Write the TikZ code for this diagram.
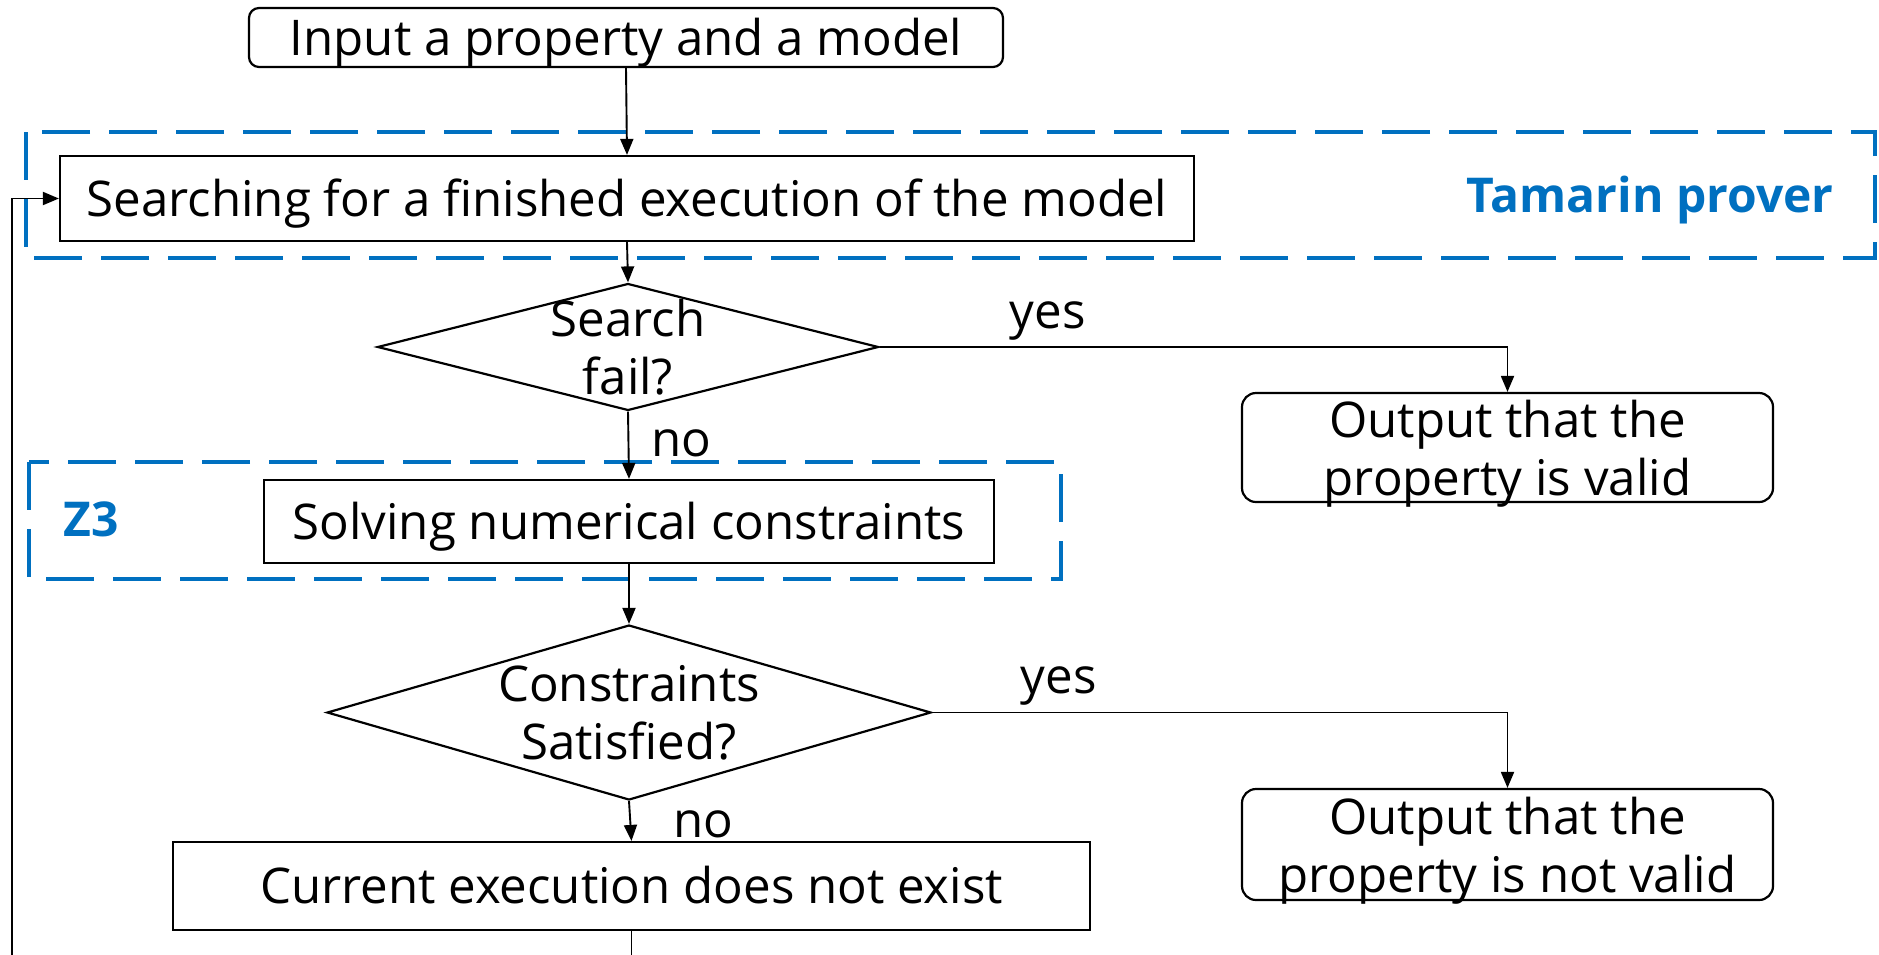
\documentclass[tikz,border=0pt]{standalone}
\usepackage{fontspec}
\setmainfont{Open Sans}
\usetikzlibrary{shapes.geometric,arrows.meta}
\definecolor{tblue}{HTML}{0070C0}
\begin{document}
\begin{tikzpicture}[x=0.5pt,y=-0.5pt,
  every node/.style={inner sep=0pt, font=\fontsize{24.6}{29}\selectfont},
  oneline/.style={text height=19pt, text depth=1.5pt},
  tx/.style={yshift=-2.5pt},
  proc/.style={draw, line width=1.1pt, rectangle, oneline},
  term/.style={draw, line width=1.1pt, rectangle, rounded corners=7pt},
  dec/.style={draw, line width=1.1pt, diamond},
  group/.style={draw=tblue, line width=2pt, dash pattern=on 24pt off 9.5pt},
  grouplabel/.style={text=tblue, font=\fontsize{24}{29}\selectfont\bfseries},
  flow/.style={line width=0.95pt, -{Triangle[length=8pt,width=6.5pt]}}
]
\clip (0,0) rectangle (1879,954);
\useasboundingbox (0,0) rectangle (1879,954);

% tool groups
\draw[group] (26,132) rectangle (1875,258);
\node[grouplabel, tx] (tamarin) at (1650,195) {Tamarin prover};
\draw[group] (29,462) rectangle (1061,579);
\node[grouplabel] (z3) at (91,519) {Z3};

% steps
\node[term, oneline, minimum width=377pt, minimum height=29.5pt, rounded corners=5pt] (input) at (626,37.5) {Input a property and a model};
\node[proc, minimum width=567pt, minimum height=42.5pt, fill=white] (search) at (627,198.5) {Searching for a finished execution of the model};
\node[dec, minimum width=250.5pt, minimum height=63.5pt] (fail) at (628,347) {};
\node[align=center] (failtxt) at (628,347) {Search\\fail?};
\node[term, minimum width=265.5pt, minimum height=54.5pt] (valid) at (1507.5,447.5) {};
\node[align=center, tx] (validtxt) at (1507.5,449) {Output that the\\property is valid};
\node[proc, minimum width=365pt, minimum height=41.5pt, fill=white] (solve) at (629,521.5) {Solving numerical constraints};
\node[dec, minimum width=302pt, minimum height=87.5pt] (sat) at (629,712.5) {};
\node[align=center] (sattxt) at (629,712.5) {Constraints\\Satisfied?};
\node[term, minimum width=265.5pt, minimum height=55.5pt] (invalid) at (1507.5,844.5) {};
\node[align=center, tx] (invalidtxt) at (1507.5,846) {Output that the\\property is not valid};
\node[proc, minimum width=458.5pt, minimum height=44pt] (cur) at (631.5,886) {Current execution does not exist};

% flow
\draw[flow] (input.south) -- (search.north);
\draw[flow] (search.south) -- (fail.north);
\draw[flow] (fail.east) -| (valid.north) node[pos=0.134, above=3pt] (yes1) {yes};
\draw[flow] (fail.south) -- (solve.north) node[pos=0.39, right=11pt, tx] (no1) {no};
\draw[flow] (solve.south) -- (sat.north);
\draw[flow] (sat.east) -| (invalid.north) node[pos=0.11, above=3pt] (yes2) {yes};
\draw[flow] (sat.south) -- (cur.north) node[pos=0.45, right=21pt, tx] (no2) {no};
\coordinate (loopcorner) at (12,1020);
\draw[flow] (cur.south) |- (loopcorner) |- (search.west);
\end{tikzpicture}
\end{document}
